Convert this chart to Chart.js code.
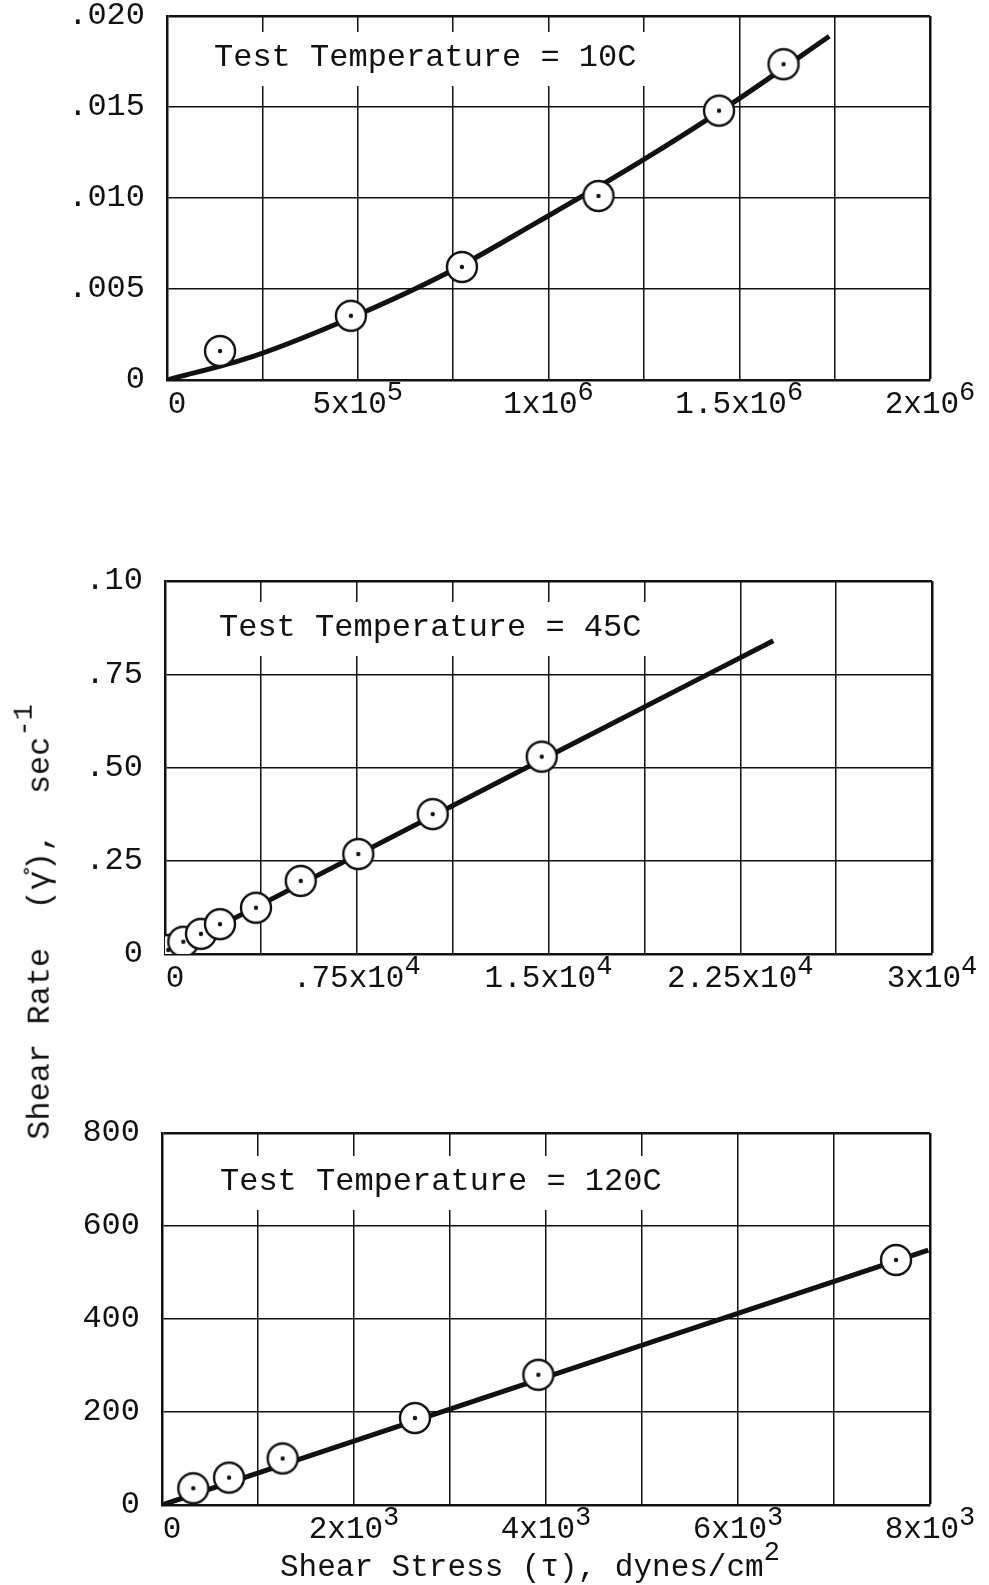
<!DOCTYPE html>
<html>
<head>
<meta charset="utf-8">
<script src="https://cdn.jsdelivr.net/npm/chart.js@4.4.1/dist/chart.umd.min.js"></script>
<style>
  html, body { margin: 0; padding: 0; background: #fff; }
  #page { position: relative; width: 989px; height: 1585px; overflow: hidden; font-family: "Liberation Mono", "DejaVu Sans Mono", monospace; color: #111; }
  canvas { position: absolute; left: 0; }
  .title { position: absolute; font-size: 32px; line-height: 32px; white-space: pre; }
  .title sup { font-size: 27px; position: relative; top: -5px; }
  #ytitle { left: 35px; top: 922px; transform: translate(-50%, -50%) rotate(-90deg); }
  #xtitle { left: 280px; top: 1542px; font-size: 31px; }
</style>
</head>
<body>
<div id="page">
  <canvas id="c10" width="989" height="440" style="top:0px"></canvas>
  <canvas id="c45" width="989" height="460" style="top:540px"></canvas>
  <canvas id="c120" width="989" height="455" style="top:1090px"></canvas>
  <div class="title" id="ytitle">Shear Rate  (γ̊),  sec<sup>-1</sup></div>
  <div class="title" id="xtitle">Shear Stress (τ), dynes/cm<sup>2</sup></div>
</div>
<script>
// 10C
const stress10 = [1.39e5, 4.82e5, 7.73e5, 1.131e6, 1.447e6, 1.616e6];
const rate10 = [0.00159, 0.00353, 0.00621, 0.01011, 0.01480, 0.01735];
const fitStress10 = [0, 2.22e5, 4.75e5, 7.33e5, 9.73e5, 1.231e6, 1.489e6, 1.736e6];
const fitRate10 = [0, 0.00127, 0.00335, 0.00586, 0.00870, 0.01187, 0.01531, 0.01889];
const yTicks10 = ["0", ".005", ".010", ".015", ".020"];
const xTickVals10 = [0, 5e5, 1e6, 1.5e6, 2e6];
const xTickBase10 = ["0", "5x10", "1x10", "1.5x10", "2x10"];
const xTickExp10 = ["", "5", "6", "6", "6"];

// 45C
const stress45 = [129, 716, 1408, 2151, 3559, 5308, 7561, 10471, 14734];
const rate45 = [0.011, 0.033, 0.054, 0.080, 0.124, 0.196, 0.268, 0.375, 0.529];
const fitStress45 = [0, 15000, 23793];
const fitRate45 = [0, 0.530, 0.840];
const yTicks45 = ["0", ".25", ".50", ".75", ".10"];
const xTickVals45 = [0, 7500, 15000, 22500, 30000];
const xTickBase45 = ["0", ".75x10", "1.5x10", "2.25x10", "3x10"];
const xTickExp45 = ["", "4", "4", "4", "4"];

// 120C
const stress120 = [326, 698, 1257, 2635, 3920, 7646];
const rate120 = [36, 59, 100, 187, 280, 527];
const fitStress120 = [0, 4000, 7982];
const fitRate120 = [0, 275, 548];
const yTicks120 = ["0", "200", "400", "600", "800"];
const xTickVals120 = [0, 2000, 4000, 6000, 8000];
const xTickBase120 = ["0", "2x10", "4x10", "6x10", "8x10"];
const xTickExp120 = ["", "3", "3", "3", "3"];

const INK = "#111";
const FONT = '"Liberation Mono", "DejaVu Sans Mono", monospace';

// circle with a dot in the middle
function makeMarker() {
  const c = document.createElement("canvas");
  c.width = 36; c.height = 36;
  const g = c.getContext("2d");
  g.beginPath();
  g.arc(18, 18, 15, 0, Math.PI * 2);
  g.fillStyle = "#fff";
  g.fill();
  g.lineWidth = 2.4;
  g.strokeStyle = INK;
  g.stroke();
  g.beginPath();
  g.arc(18, 18, 2.2, 0, Math.PI * 2);
  g.fillStyle = INK;
  g.fill();
  return c;
}
const marker = makeMarker();

const xLabelPlugin = {
  id: "xLabels",
  afterDraw(chart, args, opts) {
    const ctx = chart.ctx;
    const xs = chart.scales.x;
    const y = chart.chartArea.bottom + 33;
    ctx.save();
    ctx.fillStyle = INK;
    ctx.textBaseline = "alphabetic";
    ctx.textAlign = "left";
    opts.values.forEach((v, i) => {
      ctx.font = "31px " + FONT;
      const bw = ctx.measureText(opts.base[i]).width;
      ctx.font = "27px " + FONT;
      const ew = opts.exp[i] ? ctx.measureText(opts.exp[i]).width : 0;
      let x = xs.getPixelForValue(v) - (bw + ew) / 2;
      if (i === 0) x += 10;
      ctx.font = "31px " + FONT;
      ctx.fillText(opts.base[i], x, y);
      if (opts.exp[i]) {
        ctx.font = "27px " + FONT;
        ctx.fillText(opts.exp[i], x + bw, y - 13);
      }
    });
    ctx.restore();
  }
};

// label inside the plot, on a cleared patch of the grid
const notePlugin = {
  id: "note",
  beforeDatasetsDraw(chart, args, opts) {
    const ctx = chart.ctx;
    const x = chart.chartArea.left + opts.dx;
    const y = chart.chartArea.top + opts.dy;
    ctx.save();
    ctx.font = "32px " + FONT;
    const w = ctx.measureText(opts.text).width;
    ctx.fillStyle = "#fff";
    ctx.fillRect(x - 18, y - 26, w + 34, 54);
    ctx.fillStyle = INK;
    ctx.textBaseline = "middle";
    ctx.fillText(opts.text, x, y);
    ctx.restore();
  }
};

function toXY(xs, ys) {
  return xs.map((x, i) => ({ x: x, y: ys[i] }));
}

function drawPanel(id, p) {
  const gridWidth = max => ctx => (ctx.tick && Math.abs(ctx.tick.value - max) < max * 1e-6 ? 2.5 : 1.5);
  new Chart(document.getElementById(id), {
    type: "scatter",
    data: {
      datasets: [{
        data: toXY(p.stress, p.rate),
        pointStyle: marker,
        pointRadius: 15,
        showLine: false
      }, {
        data: toXY(p.fitStress, p.fitRate),
        showLine: true,
        pointRadius: 0,
        borderColor: INK,
        borderWidth: 5,
        tension: 0.4,
        cubicInterpolationMode: "monotone"
      }]
    },
    options: {
      responsive: false,
      animation: false,
      events: [],
      layout: { padding: { top: p.padTop, right: p.padRight, left: 0, bottom: 0 } },
      plugins: {
        legend: { display: false },
        tooltip: { enabled: false },
        xLabels: { values: p.xVals, base: p.xBase, exp: p.xExp },
        note: { text: p.note, dx: p.noteDx, dy: p.noteDy }
      },
      scales: {
        x: {
          type: "linear",
          min: 0, max: p.xMax,
          ticks: { display: false, stepSize: p.xMax / 8 },
          grid: { color: INK, lineWidth: gridWidth(p.xMax), drawTicks: false },
          border: { color: INK, width: 2.5 },
          afterFit: s => { s.height = p.xAxisH; s.paddingLeft = 0; s.paddingRight = 0; }
        },
        y: {
          type: "linear",
          min: 0, max: p.yMax,
          ticks: {
            stepSize: p.yMax / 4,
            color: INK,
            font: { family: FONT, size: 32 },
            padding: 22,
            callback: (v, i) => p.yLabels[i]
          },
          grid: { color: INK, lineWidth: gridWidth(p.yMax), drawTicks: false },
          border: { color: INK, width: 2.5 },
          afterFit: s => { s.width = p.yAxisW; s.paddingTop = 0; s.paddingBottom = 0; }
        }
      }
    },
    plugins: [xLabelPlugin, notePlugin]
  });
}

drawPanel("c10", {
  stress: stress10, rate: rate10, fitStress: fitStress10, fitRate: fitRate10,
  xMax: 2e6, yMax: 0.02, yLabels: yTicks10,
  xVals: xTickVals10, xBase: xTickBase10, xExp: xTickExp10,
  note: "Test Temperature = 10C", noteDx: 47, noteDy: 42,
  padTop: 12, padRight: 59, yAxisW: 167, xAxisH: 60
});

drawPanel("c45", {
  stress: stress45, rate: rate45, fitStress: fitStress45, fitRate: fitRate45,
  xMax: 30000, yMax: 1.0, yLabels: yTicks45,
  xVals: xTickVals45, xBase: xTickBase45, xExp: xTickExp45,
  note: "Test Temperature = 45C", noteDx: 54, noteDy: 47,
  padTop: 41, padRight: 57, yAxisW: 165, xAxisH: 46
});

drawPanel("c120", {
  stress: stress120, rate: rate120, fitStress: fitStress120, fitRate: fitRate120,
  xMax: 8000, yMax: 800, yLabels: yTicks120,
  xVals: xTickVals120, xBase: xTickBase120, xExp: xTickExp120,
  note: "Test Temperature = 120C", noteDx: 58, noteDy: 49,
  padTop: 43, padRight: 59, yAxisW: 162, xAxisH: 40
});
</script>
</body>
</html>
